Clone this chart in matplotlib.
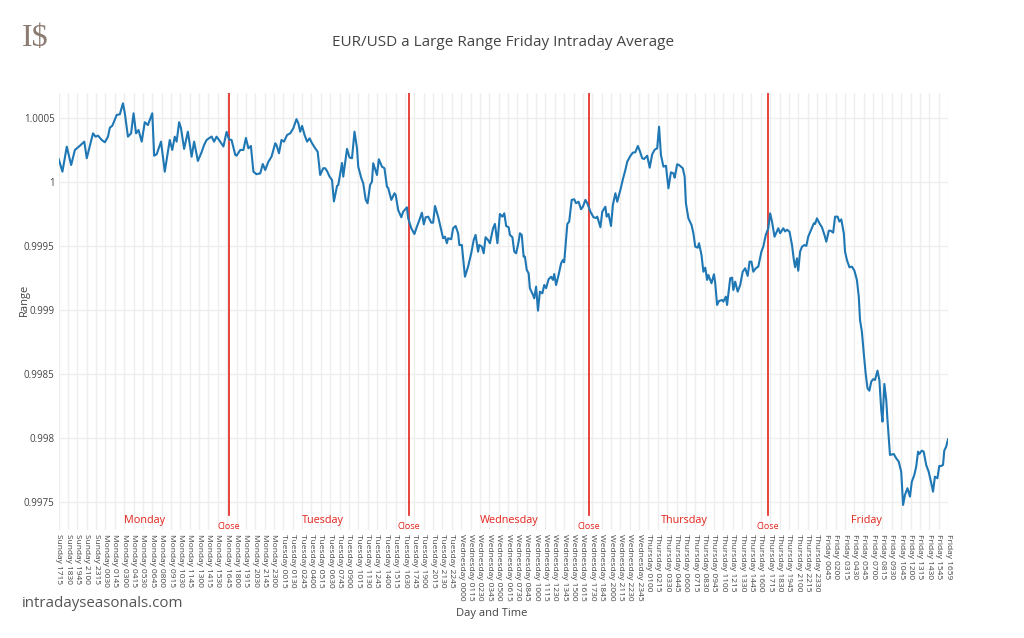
"""
EUR/USD a Large Range Friday Intraday Average — recreación con matplotlib.
"""
import matplotlib
import matplotlib.transforms as mtransforms

matplotlib.use("Agg")
import matplotlib.pyplot as plt  # noqa: E402

plt.rcParams["font.family"] = ["Open Sans", "DejaVu Sans"]

# --- datos -----------------------------------------------------------------
# posición = barra de 5 minutos desde Sunday 1715
bar = [
    0, 6, 13, 20, 26, 34, 41, 45, 49, 55, 59, 63, 69, 74, 79, 82, 86, 93, 98, 103,
    106, 111, 116, 120, 124, 128, 133, 138, 143, 150, 153, 157, 164, 170, 178, 182, 186, 189, 193, 196,
    201, 207, 213, 217, 223, 229, 233, 237, 245, 249, 253, 257, 264, 269, 273, 277, 283, 285, 291, 296,
    300, 304, 308, 312, 317, 323, 327, 331, 336, 341, 347, 349, 353, 357, 361, 366, 371, 376, 381, 384,
    387, 390, 394, 398, 402, 406, 411, 415, 419, 424, 427, 430, 434, 438, 441, 446, 448, 454, 456, 462,
    466, 470, 474, 478, 480, 485, 488, 492, 495, 499, 502, 504, 510, 513, 518, 522, 526, 528, 533, 538,
    540, 544, 549, 552, 558, 560, 565, 570, 574, 578, 582, 585, 588, 592, 597, 600, 603, 608, 613, 616,
    619, 622, 624, 629, 632, 636, 640, 642, 646, 651, 656, 661, 665, 668, 672, 674, 678, 681, 684, 688,
    691, 696, 699, 703, 707, 711, 714, 717, 721, 723, 727, 730, 733, 737, 739, 742, 745, 747, 750, 753,
    755, 760, 762, 765, 768, 771, 775, 778, 781, 785, 789, 792, 794, 797, 801, 805, 808, 810, 815, 818,
    822, 826, 829, 833, 837, 840, 844, 847, 852, 857, 861, 863, 868, 871, 876, 878, 881, 885, 888, 892,
    895, 900, 904, 908, 911, 916, 920, 924, 928, 931, 935, 938, 943, 947, 951, 955, 959, 962, 965, 969,
    973, 977, 981, 985, 987, 991, 994, 1000, 1003, 1005, 1009, 1014, 1017, 1020, 1024, 1026, 1030, 1033, 1036, 1039,
    1041, 1046, 1050, 1052, 1055, 1058, 1063, 1065, 1069, 1071, 1076, 1079, 1081, 1084, 1088, 1092, 1096, 1100, 1104, 1107,
    1110, 1113, 1117, 1121, 1126, 1129, 1133, 1137, 1140, 1143, 1147, 1153, 1156, 1161, 1164, 1167, 1171, 1175, 1178, 1180,
    1183, 1185, 1188, 1191, 1195, 1198, 1201, 1205, 1210, 1212, 1215, 1219, 1223, 1227, 1230, 1234, 1237, 1241, 1244, 1248,
    1251, 1254, 1258, 1260, 1263, 1267, 1271, 1275, 1279, 1282, 1284, 1287, 1290, 1293, 1296, 1299, 1302, 1305, 1308, 1312,
    1315, 1318, 1320, 1323, 1326, 1328, 1332, 1338, 1342, 1346, 1350, 1353, 1356, 1360, 1364, 1367, 1371, 1374, 1377, 1379,
    1383, 1386, 1390, 1394, 1398, 1401, 1404, 1408, 1411, 1414, 1417, 1419, 1422, 1425,
]
rango = [
    1.000182, 1.000083, 1.000279, 1.000135, 1.000253, 1.000286, 1.000318, 1.000188, 1.000266, 1.000383,
    1.000357, 1.000365, 1.000331, 1.000313, 1.000357, 1.000427, 1.000443, 1.000527, 1.000532, 1.000618,
    1.000540, 1.000357, 1.000383, 1.000540, 1.000383, 1.000409, 1.000318, 1.000470, 1.000448, 1.000540,
    1.000208, 1.000219, 1.000318, 1.000083, 1.000331, 1.000253, 1.000357, 1.000318, 1.000470, 1.000423,
    1.000261, 1.000396, 1.000200, 1.000318, 1.000167, 1.000235, 1.000292, 1.000331, 1.000358, 1.000318,
    1.000357, 1.000331, 1.000280, 1.000394, 1.000336, 1.000331, 1.000214, 1.000208, 1.000253, 1.000253,
    1.000347, 1.000266, 1.000284, 1.000083, 1.000063, 1.000070, 1.000143, 1.000096, 1.000161, 1.000200,
    1.000305, 1.000292, 1.000227, 1.000331, 1.000318, 1.000370, 1.000383, 1.000423, 1.000494, 1.000462,
    1.000396, 1.000441, 1.000370, 1.000318, 1.000344, 1.000305, 1.000266, 1.000239, 1.000057, 1.000110,
    1.000110, 1.000088, 1.000045, 1.000018, 0.999850, 0.999971, 0.999979, 1.000151, 1.000044, 1.000261,
    1.000194, 1.000188, 1.000396, 1.000266, 1.000122, 1.000031, 0.999992, 0.999862, 0.999836, 0.999979,
    1.000005, 1.000149, 1.000057, 1.000180, 1.000122, 1.000110, 0.999966, 0.999955, 0.999862, 0.999914,
    0.999901, 0.999783, 0.999726, 0.999770, 0.999804, 0.999718, 0.999640, 0.999595, 0.999653, 0.999705,
    0.999762, 0.999671, 0.999726, 0.999731, 0.999684, 0.999684, 0.999815, 0.999731, 0.999627, 0.999562,
    0.999574, 0.999523, 0.999562, 0.999554, 0.999640, 0.999658, 0.999601, 0.999509, 0.999509, 0.999261,
    0.999340, 0.999444, 0.999548, 0.999588, 0.999457, 0.999509, 0.999496, 0.999444, 0.999570, 0.999548,
    0.999523, 0.999640, 0.999674, 0.999523, 0.999752, 0.999731, 0.999757, 0.999658, 0.999648, 0.999588,
    0.999570, 0.999457, 0.999444, 0.999535, 0.999601, 0.999588, 0.999418, 0.999418, 0.999314, 0.999288,
    0.999171, 0.999118, 0.999092, 0.999183, 0.998995, 0.999144, 0.999131, 0.999196, 0.999171, 0.999241,
    0.999261, 0.999236, 0.999282, 0.999196, 0.999275, 0.999366, 0.999392, 0.999374, 0.999674, 0.999692,
    0.999862, 0.999867, 0.999836, 0.999848, 0.999789, 0.999809, 0.999862, 0.999836, 0.999770, 0.999726,
    0.999721, 0.999731, 0.999648, 0.999770, 0.999809, 0.999731, 0.999752, 0.999658, 0.999822, 0.999914,
    0.999848, 0.999940, 1.000023, 1.000096, 1.000161, 1.000206, 1.000232, 1.000235, 1.000284, 1.000247,
    1.000188, 1.000182, 1.000208, 1.000114, 1.000219, 1.000255, 1.000266, 1.000435, 1.000214, 1.000122,
    1.000130, 0.999953, 1.000078, 1.000070, 1.000036, 1.000141, 1.000135, 1.000110, 1.000044, 0.999836,
    0.999718, 0.999666, 0.999601, 0.999496, 0.999488, 0.999523, 0.999431, 0.999300, 0.999332, 0.999236,
    0.999275, 0.999210, 0.999280, 0.999210, 0.999040, 0.999071, 0.999079, 0.999066, 0.999105, 0.999040,
    0.999249, 0.999254, 0.999157, 0.999222, 0.999144, 0.999196, 0.999300, 0.999327, 0.999267, 0.999379,
    0.999379, 0.999300, 0.999327, 0.999340, 0.999457, 0.999496, 0.999588, 0.999640, 0.999757, 0.999692,
    0.999574, 0.999640, 0.999601, 0.999640, 0.999615, 0.999629, 0.999613, 0.999509, 0.999392, 0.999335,
    0.999405, 0.999308, 0.999457, 0.999496, 0.999509, 0.999502, 0.999574, 0.999621, 0.999679, 0.999674,
    0.999718, 0.999679, 0.999648, 0.999588, 0.999535, 0.999621, 0.999621, 0.999606, 0.999731, 0.999731,
    0.999692, 0.999710, 0.999601, 0.999457, 0.999392, 0.999335, 0.999340, 0.999308, 0.999236, 0.999105,
    0.998922, 0.998831, 0.998662, 0.998505, 0.998388, 0.998369, 0.998440, 0.998459, 0.998453, 0.998526,
    0.998453, 0.998218, 0.998127, 0.998422, 0.998297, 0.998140, 0.997866, 0.997874, 0.997840, 0.997814,
    0.997735, 0.997475, 0.997553, 0.997606, 0.997540, 0.997657, 0.997710, 0.997775, 0.997892, 0.997874,
    0.997900, 0.997892, 0.997788, 0.997735, 0.997649, 0.997579, 0.997696, 0.997684, 0.997780, 0.997780,
    0.997788, 0.997900, 0.997931, 0.997989,
]

dias = ["Monday", "Tuesday", "Wednesday", "Thursday", "Friday"]
dias_x = [138, 424, 722, 1002, 1294]
cierres = [273, 561, 849, 1137]

horas = {
    "Sunday": ["1715", "1830", "1945", "2100", "2315"],
    "Monday": ["0030", "0145", "0300", "0415", "0530", "0645", "0800", "0915", "1030", "1145",
               "1300", "1415", "1530", "1645", "1800", "1915", "2030", "2145", "2300"],
    "Tuesday": ["0015", "0130", "0245", "0400", "0515", "0630", "0745", "0900", "1015", "1130",
                "1245", "1400", "1515", "1630", "1745", "1900", "2015", "2130", "2245"],
    "Wednesday": ["0000", "0115", "0230", "0345", "0500", "0615", "0730", "0845", "1000", "1115",
                  "1230", "1345", "1500", "1615", "1730", "1845", "2000", "2115", "2230", "2345"],
    "Thursday": ["0100", "0215", "0330", "0445", "0600", "0715", "0830", "0945", "1100", "1215",
                 "1330", "1445", "1600", "1715", "1830", "1945", "2100", "2215", "2330"],
    "Friday": ["0045", "0200", "0315", "0430", "0545", "0700", "0815", "0930", "1045", "1200",
               "1315", "1430", "1545", "1659"],
}
etiquetas_x = [f"{d} {h}" for d, hs in horas.items() for h in hs]
ticks_y = [0.9975, 0.998, 0.9985, 0.999, 0.9995, 1.0, 1.0005]
etiquetas_y = ["0.9975", "0.998", "0.9985", "0.999", "0.9995", "1", "1.0005"]

# --- figura ------------------------------------------------------------------
ROJO = "#e3241c"
GRIS = "#444444"

fig = plt.figure(figsize=(10.24, 6.38), dpi=100)
ax = fig.add_axes([0.0573, 0.1693, 0.8685, 0.685])

ax.plot(bar, rango, color="#1f77b4", lw=1.5, solid_joinstyle="round", zorder=3)

for c in cierres:
    ax.axvline(c, ymin=0.034, ymax=1, color=ROJO, lw=1.2, zorder=2)

trans = mtransforms.blended_transform_factory(ax.transData, ax.transAxes)
for c in cierres:
    ax.text(c, 0.009, "Close", transform=trans, ha="center", va="center",
            color=ROJO, fontsize=6.5)
for d, x in zip(dias, dias_x):
    ax.text(x, 0.021, d, transform=trans, ha="center", va="center",
            color=ROJO, fontsize=7.8)

ax.set_xlim(0, 1425)
ax.set_ylim(0.997279, 1.000699)
ax.set_xticks([15 * i if i < 95 else 1425 for i in range(len(etiquetas_x))])
ax.set_xticklabels(etiquetas_x, rotation=-90, fontsize=6.0, color=GRIS,
                   va="top", ha="center")
ax.set_yticks(ticks_y)
ax.set_yticklabels(etiquetas_y, fontsize=7, color=GRIS)
ax.tick_params(length=0, pad=3)
ax.grid(True, color="#eeeeee", lw=1, zorder=0)
ax.set_axisbelow(True)
for s in ax.spines.values():
    s.set_visible(False)

ax.set_xlabel("Day and Time", fontsize=8, color=GRIS)
ax.xaxis.set_label_coords(0.487, -0.179)
ax.set_ylabel("Range", fontsize=8, color=GRIS)
ax.yaxis.set_label_coords(-0.0325, 0.526)

fig.text(0.491, 0.934, "EUR/USD a Large Range Friday Intraday Average",
         ha="center", va="center", fontsize=11, color=GRIS)
fig.text(0.021, 0.94, "I$", ha="left", va="center", fontsize=23,
         color="#8c7b72", family=["Liberation Serif", "DejaVu Serif"])
fig.text(0.021, 0.054, "intradayseasonals.com", ha="left", va="center",
         fontsize=10.8, color="#555555")

fig.savefig("out.png", dpi=100)
plt.close(fig)
